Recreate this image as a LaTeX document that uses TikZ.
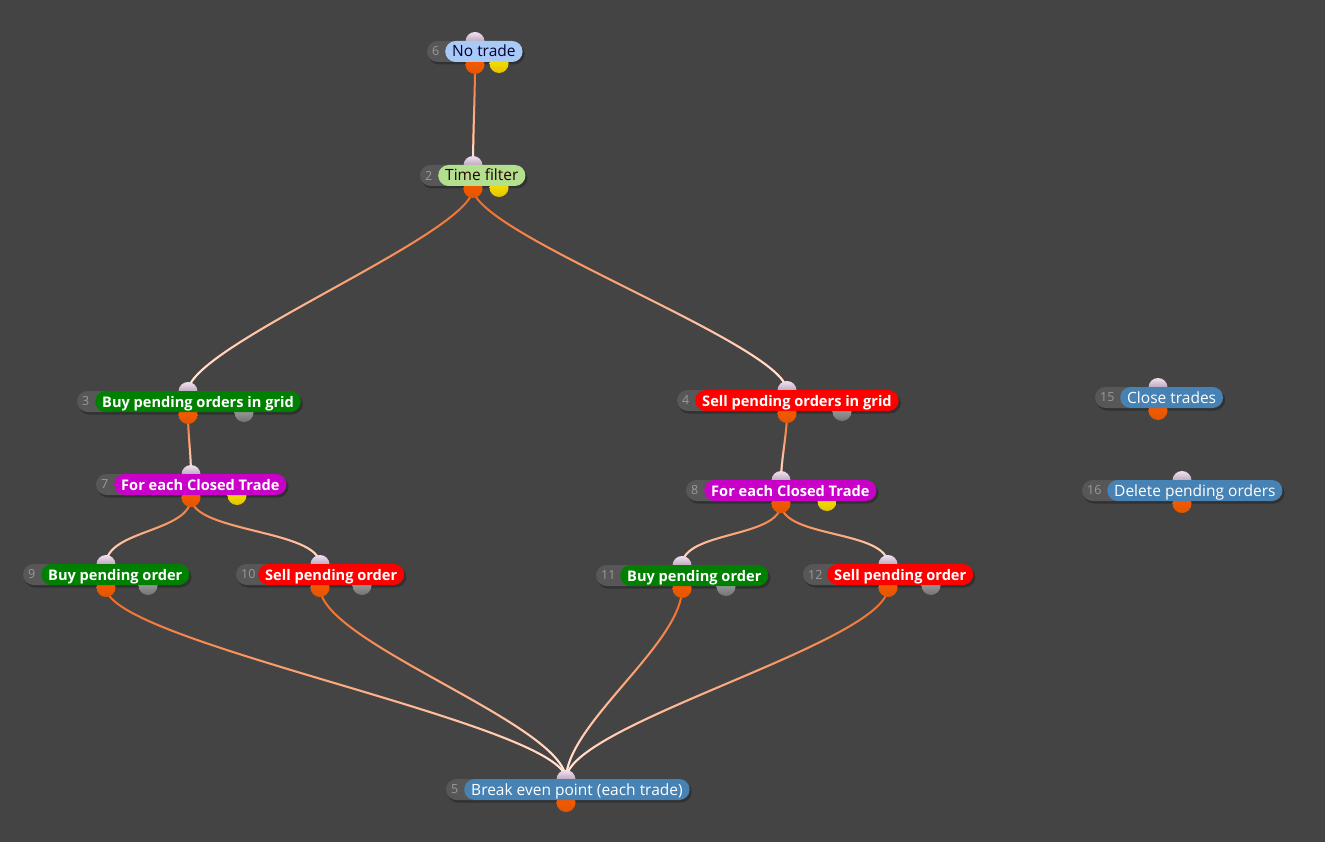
\documentclass[tikz,border=0pt]{standalone}
\usepackage{fontspec}
\setmainfont{Open Sans}
\usetikzlibrary{calc,fadings}
\definecolor{bgc}{HTML}{444444}
\definecolor{numfill}{HTML}{575757}
\definecolor{numtxt}{HTML}{9A9A9A}
\definecolor{cnotrade}{HTML}{A9C9F7}
\definecolor{ctime}{HTML}{B2E08E}
\definecolor{cgreen}{HTML}{008000}
\definecolor{cred}{HTML}{FF0000}
\definecolor{cmag}{HTML}{C800C8}
\definecolor{cblue}{HTML}{4682B4}
\definecolor{edgeor}{HTML}{F2641A}
\definecolor{edgepale}{HTML}{FFF2EE}
\tikzfading[name=fadedown, top color=transparent!100, bottom color=transparent!0]
\pgfdeclarelayer{bglayer}
\pgfdeclarelayer{edgelayer}
\pgfdeclarelayer{shadowlayer}
\pgfsetlayers{bglayer,edgelayer,shadowlayer,main}
\newcommand\fnode[9]{%
  \coordinate (#1-in) at (#8,#5-10);
  \coordinate (#1-out) at (#8,#5+13);
  \node[indot] (#1-indot) at (#1-in) {};
  \node[outdot] (#1-outdot) at (#1-out) {};
  #9
  \fill[numfill,rounded corners=10.5pt] (#3,#5-10.5) rectangle (#4+24,#5+10.5);
  \node[numtext,anchor=west] (#1-num) at (#3+5,#5) {#2};
  \node[pill,#6,anchor=west] (#1) at (#4,#5) {#7};
  \begin{pgfonlayer}{shadowlayer}
    \fill[black,opacity=.28,rounded corners=11pt] (#3+1,#5-8) rectangle ($(#1.east)+(2,13)$);
  \end{pgfonlayer}
}
\newcommand\conn[3]{%
  \begin{pgfonlayer}{edgelayer}
  \draw[edgebase] (#1-out) .. controls ($(#1-out)+(0,#3)$) and ($(#2-in)+(0,-#3)$) .. (#2-in);
  \draw[edgetop] (#1-out) .. controls ($(#1-out)+(0,#3)$) and ($(#2-in)+(0,-#3)$) .. (#2-in);
  \end{pgfonlayer}
}
\begin{document}
\begin{tikzpicture}[x=1pt,y=-1pt,
  dot/.style={circle,inner sep=0pt,minimum size=19pt},
  indot/.style={dot,top color=white!88!violet,bottom color=black!45!white!80!violet},
  outdot/.style={dot,top color=orange!70!red,bottom color=black!15!orange!80!red},
  ydot/.style={dot,top color=yellow!85!orange,bottom color=black!15!yellow!75!orange},
  gdot/.style={dot,top color=black!30,bottom color=black!55},
  numtext/.style={text=numtxt,font=\fontsize{12.5}{14}\selectfont,inner sep=0pt},
  pill/.style={rounded corners=10.5pt,minimum height=21pt,inner xsep=7pt,inner ysep=0pt,
     text height=12.5pt,text depth=1.5pt,font=\fontsize{15.5}{17}\selectfont},
  boldpill/.style={pill,text=white,font=\fontsize{14.6}{17}\selectfont\bfseries},
  notrade/.style={fill=cnotrade,text=black!80!blue},
  timef/.style={fill=ctime,text=black!85!red},
  gpill/.style={boldpill,fill=cgreen},
  rpill/.style={boldpill,fill=cred},
  mpill/.style={boldpill,fill=cmag},
  bpill/.style={fill=cblue,text=white},
  edgebase/.style={draw=edgeor,line width=2pt},
  edgetop/.style={draw=edgepale,line width=2pt,path fading=fadedown}]
\begin{pgfonlayer}{bglayer}
\fill[bgc] (0,0) rectangle (1325,842);
\end{pgfonlayer}
\useasboundingbox (0,0) rectangle (1325,842);

\fnode{n6}{6}{427}{445}{51.5}{notrade}{No trade}{475}{\node[ydot] (n6-aux) at (499,63.5) {};}
\fnode{n2}{2}{420}{438}{175.5}{timef}{Time filter}{473}{\node[ydot] (n2-aux) at (499,187.5) {};}
\fnode{n3}{3}{77}{95}{401.5}{gpill}{Buy pending orders in grid}{188}{\node[gdot] (n3-aux) at (244,412.5) {};}
\fnode{n4}{4}{677}{695}{400.5}{rpill}{Sell pending orders in grid}{787}{\node[gdot] (n4-aux) at (842,411.5) {};}
\fnode{n7}{7}{96}{114}{484.5}{mpill}{For each Closed Trade}{191}{\node[ydot] (n7-aux) at (237,495.5) {};}
\fnode{n8}{8}{686}{704}{490.5}{mpill}{For each Closed Trade}{781}{\node[ydot] (n8-aux) at (827,501.5) {};}
\fnode{n9}{9}{23}{41}{574.5}{gpill}{Buy pending order}{106}{\node[gdot] (n9-aux) at (148,585.5) {};}
\fnode{n10}{10}{236}{258}{574.5}{rpill}{Sell pending order}{320}{\node[gdot] (n10-aux) at (362,585.5) {};}
\fnode{n11}{11}{596}{620}{575.5}{gpill}{Buy pending order}{682}{\node[gdot] (n11-aux) at (726,586.5) {};}
\fnode{n12}{12}{803}{827}{574.5}{rpill}{Sell pending order}{888}{\node[gdot] (n12-aux) at (931,585.5) {};}
\fnode{n5}{5}{446}{464}{789.5}{bpill}{Break even point (each trade)}{566}{}
\fnode{n15}{15}{1095}{1120}{397.5}{bpill}{Close trades}{1158}{}
\fnode{n16}{16}{1082}{1107}{490.5}{bpill}{Delete pending orders}{1182}{}

\conn{n6}{n2}{30}
\conn{n2}{n3}{45}
\conn{n2}{n4}{45}
\conn{n3}{n7}{20}
\conn{n4}{n8}{20}
\conn{n7}{n9}{35}
\conn{n7}{n10}{35}
\conn{n8}{n11}{35}
\conn{n8}{n12}{35}
\conn{n9}{n5}{55}
\conn{n10}{n5}{55}
\conn{n11}{n5}{55}
\conn{n12}{n5}{55}
\end{tikzpicture}
\end{document}
